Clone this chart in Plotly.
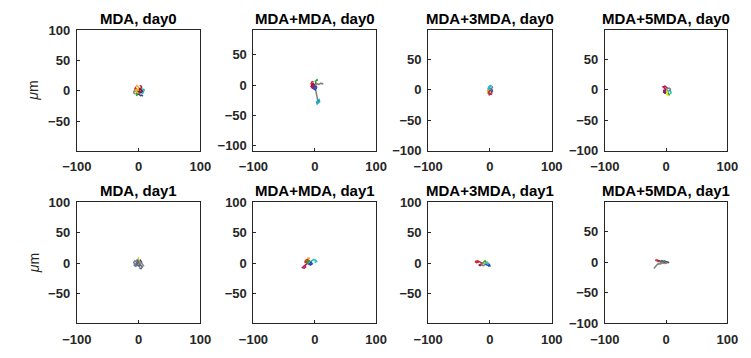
import plotly.graph_objects as go

W, H = 751, 358

TITLES = ["MDA, day0", "MDA+MDA, day0", "MDA+3MDA, day0", "MDA+5MDA, day0",
          "MDA, day1", "MDA+MDA, day1", "MDA+3MDA, day1", "MDA+5MDA, day1"]

X_TICKS = [-100, 0, 100]
Y_TICKS = [-100, -50, 0, 50, 100]
X_RANGE = [-100, 100]
Y_RANGES = [[-98.4, 100], [-108, 90.5], [-100, 98.4], [-100, 98.4],
            [-98.4, 100], [-98.4, 100], [-98.4, 100], [-100, 98.4]]

TRACK_COLORS = ["#d62728", "#1f4fbf", "#2ca02c", "#ff9f1a", "#17becf",
                "#7f7f7f", "#c2185b", "#3b3b8f", "#e6c619", "#8b1a1a"]

# Cell trajectories (micrometres), one list of x and one of y per track
MDA_D0_X = [[0, -3, -5, -6, -4, -2, 1, 3], [0, 2, 4, 6, 5, 3, 1], [0, -2, -4, -3, -1, 2],
            [0, 1, -1, -3, -2], [0, 4, 7, 9, 8, 6], [0, -4, -7, -8, -6], [0, 3, 5, 4, 2],
            [0, -1, 1, 3, 5, 7], [0, -2, -5, -3, 0], [0, 3, 6, 4, 1]]
MDA_D0_Y = [[0, 2, 5, 3, -1, -3, -2, 1], [0, -2, -3, -1, 2, 3, 1], [0, -3, -5, -7, -6, -4],
            [0, 4, 7, 8, 10], [0, 1, 3, 2, -2, -5], [0, -1, 0, -3, -5], [0, 4, 6, 8, 9],
            [0, -4, -6, -8, -7, -9], [0, 3, 1, -2, -4], [0, -3, -1, 2, 4]]

MM_D0_X = [[0, -3, -5, -4, -1, 2, 3], [0, -2, -4, -6, -5, -2], [0, 2, 1, 4, 3],
           [0, 1, 2, 3, 4, 5], [5, 7, 8, 6, 4, 3, 5, 7], [0, 4, 7, 10, 12, 14],
           [0, -2, 1, 3, 0], [0, -3, -6, -4, -2]]
MM_D0_Y = [[0, 3, 2, -3, -6, -5, -1], [0, -2, -1, 2, 5, 6], [0, 3, 6, 8, 10],
           [0, -5, -11, -17, -22, -26], [-26, -24, -27, -30, -31, -28, -25, -28],
           [0, 2, 1, 3, 2, 3], [0, -6, -8, -4, -2], [0, 1, -2, -5, -3]]
MM_D0_C = ["#c2185b", "#d62728", "#2ca02c", "#808080", "#1aa6b7", "#808080", "#1f4fbf",
           "#a0144f"]

M3_D0_X = [[0, -1, 1, 2, 0], [0, 2, 3, 1, -1, -2], [0, -2, -4, -3, -1], [0, 1, 3, 4, 2],
           [0, -1, -3, -2], [0, 2, 4, 3], [0, -2, -1, 1, 3], [0, -3, -2, 0]]
M3_D0_Y = [[0, 3, 6, 8, 5], [0, -2, -5, -7, -8, -5], [0, 1, -1, -3, -2], [0, 2, 1, -2, -3],
           [0, -3, -5, -7], [0, 3, 4, 6], [0, -4, -6, -6, -8], [0, 2, 5, 7]]
M3_D0_C = ["#17becf", "#c2185b", "#ff9f1a", "#1f4fbf", "#2ca02c", "#7f7f7f", "#d62728",
           "#17becf"]

M5_D0_X = [[0, -3, -5, -2, 1, 3], [0, 2, 4, 5, 3], [0, 3, 6, 8, 7], [0, -2, -4, -3, 0],
           [0, 2, 5, 7, 6], [0, 1, -1, -2], [0, 2, 1, 4], [0, -3, -4, -1]]
M5_D0_Y = [[0, 3, 5, 6, 4, 2], [0, -3, -5, -8, -9], [0, -2, -1, -4, -7], [0, -2, 0, -4, -5],
           [0, 2, 3, 1, -2], [0, -2, -4, -6], [0, -4, -7, -10], [0, -1, -4, -6]]
M5_D0_C = ["#c2185b", "#2ca02c", "#17becf", "#8b1a1a", "#7f7f7f", "#1f4fbf", "#e6e619",
           "#a0144f"]

MDA_D1_X = [[0, -3, -6, -8, -5, -2], [0, 2, 4, 6, 4, 1], [0, 1, 3, 5, 3],
            [0, 0.5, -0.5, 0], [0, -2, -5, -7, -4], [0, 3, 6, 8, 5], [0, -1, -3, -2, 0],
            [0, -4, -2, 1, 4]]
MDA_D1_Y = [[0, 2, 4, 1, -2, -1], [0, -2, -4, -6, -9, -7], [0, 3, 5, 2, 0],
            [0, 4, 7, 10], [0, -3, -5, -3, -1], [0, 1, -1, -4, -6], [0, 5, 6, 3, 1],
            [0, 1, -3, -5, -2]]
MDA_D1_C = ["#7f7f7f", "#5a6a8a", "#555555", "#e6d619", "#6b7b9b", "#8a8a8a", "#4a6fa5",
            "#666677"]

MM_D1_X = [[-12, -15, -18, -20, -17, -14], [-12, -14, -11, -9, -12], [-8, -5, -2, 1, 3, 0],
           [-12, -9, -6, -8], [-12, -16, -15, -12, -10], [-10, -7, -4, -6, -9],
           [-12, -14, -10, -8]]
MM_D1_Y = [[0, -2, -5, -7, -8, -5], [0, 4, 6, 8, 9], [2, 4, 6, 5, 3, 1], [0, -2, 1, 3],
           [0, 2, 5, 6, 4], [0, -3, -1, 2, -1], [0, 3, 2, 5]]
MM_D1_C = ["#c2185b", "#ff9f1a", "#17becf", "#7f7f7f", "#d62728", "#1f4fbf", "#2ca02c"]

M3_D1_X = [[-12, -16, -20, -24, -22, -18], [-10, -7, -4, -1, 0, -3], [-12, -15, -18, -16, -13],
           [-12, -10, -8, -6], [-10, -8, -6, -4, -2], [-12, -14, -11, -8], [-8, -5, -3, -1]]
M3_D1_Y = [[0, 2, 4, 3, 1, 2], [0, -2, -3, -2, -4, -5], [0, -1, -3, -4, -2],
           [0, 2, 4, 2], [0, 1, 0, 2, 1], [0, -3, -4, -2], [0, 1, -1, 0]]
M3_D1_C = ["#d62728", "#1f4fbf", "#a0144f", "#2ca02c", "#e6c619", "#7f7f7f", "#17becf"]

M5_D1_X = [[-20, -18, -15, -12, -8, -4, 0, 4], [-16, -12, -9, -6, -3, 1, 5],
           [-18, -15, -12, -14], [-14, -10, -6, -2, 2], [-10, -7, -4, -1]]
M5_D1_Y = [[-10, -7, -4, -2, -1, 0, 1, 0], [2, 3, 1, 2, 0, 1, -1],
           [3, 4, 2, 1], [-2, -3, -1, -2, -1], [1, 3, 2, 3]]
M5_D1_C = ["#7f7f7f", "#555555", "#d62728", "#8c8c8c", "#6a6a6a"]

PANELS = [
    (MDA_D0_X, MDA_D0_Y, TRACK_COLORS),
    (MM_D0_X, MM_D0_Y, MM_D0_C),
    (M3_D0_X, M3_D0_Y, M3_D0_C),
    (M5_D0_X, M5_D0_Y, M5_D0_C),
    (MDA_D1_X, MDA_D1_Y, MDA_D1_C),
    (MM_D1_X, MM_D1_Y, MM_D1_C),
    (M3_D1_X, M3_D1_Y, M3_D1_C),
    (M5_D1_X, M5_D1_Y, M5_D1_C),
]

# layout geometry (pixels)
COL_X = [(64, 192), (247, 374), (428, 556), (611, 738)]
ROW_Y = [(24, 150), (204, 330)]

FONT = "Arial, 'Liberation Sans', Helvetica, sans-serif"
AX_COLOR = "#262626"

fig = go.Figure()
layout = dict(width=W, height=H, margin=dict(l=0, r=0, t=0, b=0),
              paper_bgcolor="white", plot_bgcolor="white", showlegend=False,
              annotations=[])

for i, (xs, ys, cols) in enumerate(PANELS):
    r, c = divmod(i, 4)
    n = i + 1
    xa = "x" if n == 1 else f"x{n}"
    ya = "y" if n == 1 else f"y{n}"
    for k, (tx, ty) in enumerate(zip(xs, ys)):
        fig.add_trace(go.Scatter(x=tx, y=ty, mode="lines", xaxis=xa, yaxis=ya,
                                 line=dict(color=cols[k % len(cols)], width=1.5),
                                 hoverinfo="skip"))
    x0, x1 = COL_X[c]
    t0, t1 = ROW_Y[r]
    common = dict(showline=True, mirror=True, linecolor=AX_COLOR, linewidth=1,
                  ticks="inside", ticklen=3, tickcolor=AX_COLOR, showgrid=False,
                  zeroline=False, fixedrange=True,
                  tickfont=dict(family=FONT, size=13, color=AX_COLOR, weight="bold"))
    layout[f"xaxis{n}"] = dict(common, domain=[x0 / W, x1 / W], range=X_RANGE,
                               tickmode="array", tickvals=X_TICKS, anchor=ya,
                               ticklabelstandoff=4)
    layout[f"yaxis{n}"] = dict(common, domain=[1 - t1 / H, 1 - t0 / H], range=Y_RANGES[i],
                               tickmode="array", tickvals=Y_TICKS, anchor=xa,
                               ticklabelstandoff=3)
    layout["annotations"].append(dict(
        text=f"<b>{TITLES[i]}</b>", x=(x0 + x1) / 2 / W, y=1 - (t0 - 12) / H,
        xref="paper", yref="paper", xanchor="center", yanchor="middle",
        showarrow=False, font=dict(family=FONT, size=15, color="black")))
    if c == 0:
        layout["annotations"].append(dict(
            text="<i>μ</i>m", x=19 / W, y=1 - ((t0 + t1) / 2) / H, xref="paper",
            yref="paper", xanchor="center", yanchor="middle", textangle=-90,
            showarrow=False, font=dict(family=FONT, size=14, color=AX_COLOR)))

fig.update_layout(**layout)
fig.write_html("out.html")
